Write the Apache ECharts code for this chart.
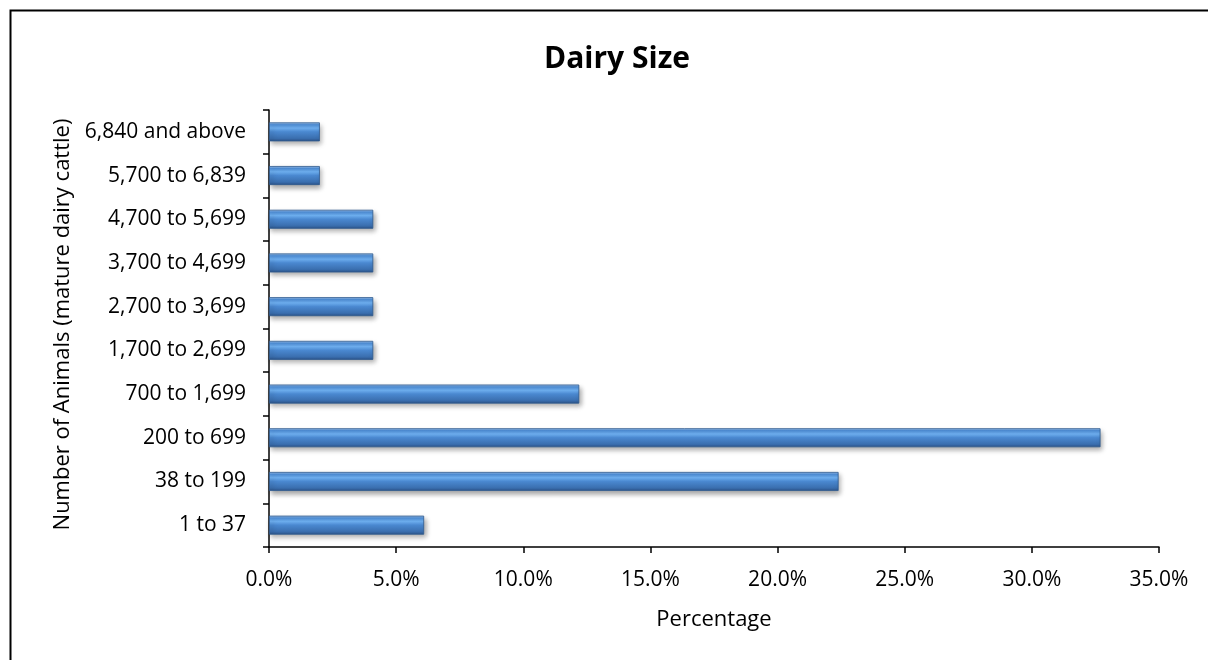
<!DOCTYPE html>
<html><head><meta charset="utf-8">
<script src="https://cdn.jsdelivr.net/npm/echarts@6/dist/echarts.min.js"></script>
<style>html,body{margin:0;padding:0;background:#fff}#c{width:1208px;height:660px}</style>
</head><body><div id="c"></div>
<script>
const categories = ['1 to 37','38 to 199','200 to 699','700 to 1,699','1,700 to 2,699','2,700 to 3,699','3,700 to 4,699','4,700 to 5,699','5,700 to 6,839','6,840 and above'];
const percentages = [6.1, 22.4, 32.7, 12.2, 4.1, 4.1, 4.1, 4.1, 2.0, 2.0];
const xTicks = [0, 5, 10, 15, 20, 25, 30, 35];

const chart = echarts.init(document.getElementById('c'));
const font = '"Open Sans", sans-serif';
chart.setOption({
  animation: false,
  title: { text: 'Dairy Size', left: 612, top: 39, textAlign: 'center',
    textStyle: { fontFamily: font, fontSize: 30, fontWeight: 'bold', color: '#000' } },
  graphic: [{ type: 'rect', shape: { x: 10.5, y: 10.5, width: 1300, height: 800 },
    style: { fill: 'none', stroke: '#000', lineWidth: 2 }, silent: true }],
  grid: { left: 269, right: 49, top: 110, bottom: 113 },
  xAxis: {
    type: 'value', min: 0, max: 35, interval: 5,
    name: 'Percentage', nameLocation: 'middle', nameGap: 62,
    nameTextStyle: { fontFamily: font, fontSize: 22, color: '#000' },
    axisLine: { show: true, lineStyle: { color: '#000', width: 1.5 } },
    axisTick: { show: true, length: 6, lineStyle: { color: '#000', width: 1.5 } },
    axisLabel: { fontFamily: font, fontSize: 21, color: '#000', margin: 23,
      formatter: v => xTicks.includes(v) ? v.toFixed(1) + '%' : '' },
    splitLine: { show: false }
  },
  yAxis: {
    type: 'category', data: categories,
    name: 'Number of Animals (mature dairy cattle)', nameLocation: 'middle', nameGap: 195,
    nameTextStyle: { fontFamily: font, fontSize: 22, color: '#000', padding: [0, 0, 0, 8] },
    axisLine: { show: true, lineStyle: { color: '#000', width: 1.5 } },
    axisTick: { show: true, inside: false, length: 6, alignWithLabel: false, lineStyle: { color: '#000', width: 1.5 } },
    axisLabel: { fontFamily: font, fontSize: 21, color: '#000', margin: 23 }
  },
  series: [{
    type: 'bar', data: percentages, barWidth: 19,
    itemStyle: {
      color: new echarts.graphic.LinearGradient(0, 0, 0, 1, [
        { offset: 0, color: '#a9c8ec' },
        { offset: 0.12, color: '#4f8fd8' },
        { offset: 0.3, color: '#70b2f4' },
        { offset: 0.5, color: '#4a88d0' },
        { offset: 0.85, color: '#3a6eae' },
        { offset: 1, color: '#2b5287' }
      ]),
      borderColor: '#2f5a8f', borderWidth: 0.8,
      shadowColor: 'rgba(0,0,0,0.35)', shadowBlur: 5, shadowOffsetX: 2, shadowOffsetY: 3
    }
  }]
});
</script></body></html>
